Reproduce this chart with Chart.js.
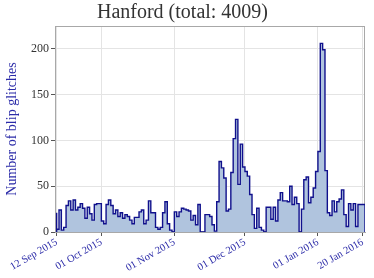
<!DOCTYPE html>
<html><head><meta charset="utf-8">
<script src="https://cdn.jsdelivr.net/npm/chart.js@4.4.1/dist/chart.umd.min.js"></script>
<style>html,body{margin:0;padding:0;background:#fff}#wrap{width:374px;height:278px}</style>
</head><body><div id="wrap"><canvas id="c" width="374" height="278"></canvas></div>
<script>
const titleText = 'Hanford (total: 4009)';
const yAxisLabel = 'Number of blip glitches';
// one bin per day, day 0 = 12 Sep 2015 ... day 130 = 20 Jan 2016
const dailyCounts = [
  21, 3, 24, 2, 5, 29, 34, 24, 35, 24, 27, 31, 26, 15, 27, 20, 13, 30, 31,
  31, 12, 9, 30, 35, 29, 20, 24, 17, 21, 15, 19, 17, 13, 9, 16, 16, 22, 24, 9, 13, 34, 21, 21, 5, 3, 5, 21, 33, 9, 2,
  0, 22, 17, 22, 26, 25, 24, 23, 13, 18, 8, 30, 0, 0, 19, 19, 17, 8, 1, 33, 77, 70, 59, 23, 25, 65, 102, 123, 52, 96,
  71, 66, 61, 41, 19, 4, 26, 5, 2, 0, 27, 27, 14, 27, 12, 35, 43, 34, 34, 33, 50, 30, 38, 31, 0, 25, 57, 60, 32, 38, 48,
  66, 88, 206, 199, 67, 21, 18, 34, 22, 33, 36, 46, 19, 6, 31, 24, 31, 6, 30, 30
];
const xTickDays = [0, 19, 50, 80, 111, 130];
const xTickLabels = ['12 Sep 2015', '01 Oct 2015', '01 Nov 2015', '01 Dec 2015', '01 Jan 2016', '20 Jan 2016'];
const yTickValues = [0, 50, 100, 150, 200];

const points = [{x: 0, y: 0}];
dailyCounts.forEach((v, i) => points.push({x: i, y: v}));
points.push({x: dailyCounts.length, y: dailyCounts[dailyCounts.length - 1]});
points.push({x: dailyCounts.length, y: 0});

const serif = "'Liberation Serif', 'DejaVu Serif', serif";
const frame = {
  id: 'frame',
  beforeDatasetsDraw(chart) {
    const {ctx, chartArea: a} = chart;
    ctx.save();
    ctx.strokeStyle = '#a8a8a8';
    ctx.lineWidth = 1;
    ctx.strokeRect(Math.round(a.left) + 0.5, Math.round(a.top) + 0.5, Math.round(a.right - a.left) - 1, Math.round(a.bottom - a.top) - 1);
    ctx.restore();
  }
};

new Chart(document.getElementById('c'), {
  type: 'line',
  data: {
    datasets: [{
      data: points,
      stepped: 'after',
      fill: 'origin',
      backgroundColor: '#b0c4de',
      borderColor: '#10108c',
      borderWidth: 1.4,
      pointRadius: 0,
      tension: 0
    }]
  },
  options: {
    responsive: false,
    animation: false,
    devicePixelRatio: 1,
    layout: {padding: {left: 0, right: 9, top: 0, bottom: 0}},
    plugins: {
      legend: {display: false},
      tooltip: {enabled: false},
      title: {
        display: true,
        text: titleText,
        color: '#333',
        font: {family: serif, size: 20, weight: 'normal', lineHeight: 1.2},
        padding: {top: 1, bottom: 1}
      }
    },
    scales: {
      x: {
        type: 'linear',
        min: -0.7,
        max: 131,
        afterBuildTicks(s) { s.ticks = xTickDays.map(v => ({value: v})); },
        afterFit(s) { s.height = 46; },
        ticks: {
          autoSkip: false,
          minRotation: 30,
          maxRotation: 30,
          padding: 0,
          color: '#2b2ba8',
          font: {family: serif, size: 10.5},
          callback: (v) => xTickLabels[xTickDays.indexOf(v)]
        },
        grid: {color: '#e4e4e4', tickColor: '#555', tickLength: 4},
        border: {color: '#a8a8a8'}
      },
      y: {
        min: 0,
        max: 225,
        afterBuildTicks(s) { s.ticks = yTickValues.map(v => ({value: v})); },
        afterFit(s) { s.width = 55; },
        ticks: {
          padding: 2,
          color: '#333',
          font: {family: serif, size: 12}
        },
        grid: {color: '#e4e4e4', tickColor: '#555', tickLength: 4},
        border: {color: '#a8a8a8'},
        title: {
          display: true,
          text: yAxisLabel,
          color: '#2b2ba8',
          font: {family: serif, size: 14, lineHeight: 1.2},
          padding: {top: 4, bottom: 0}
        }
      }
    }
  },
  plugins: [frame]
});
</script>
</body></html>
